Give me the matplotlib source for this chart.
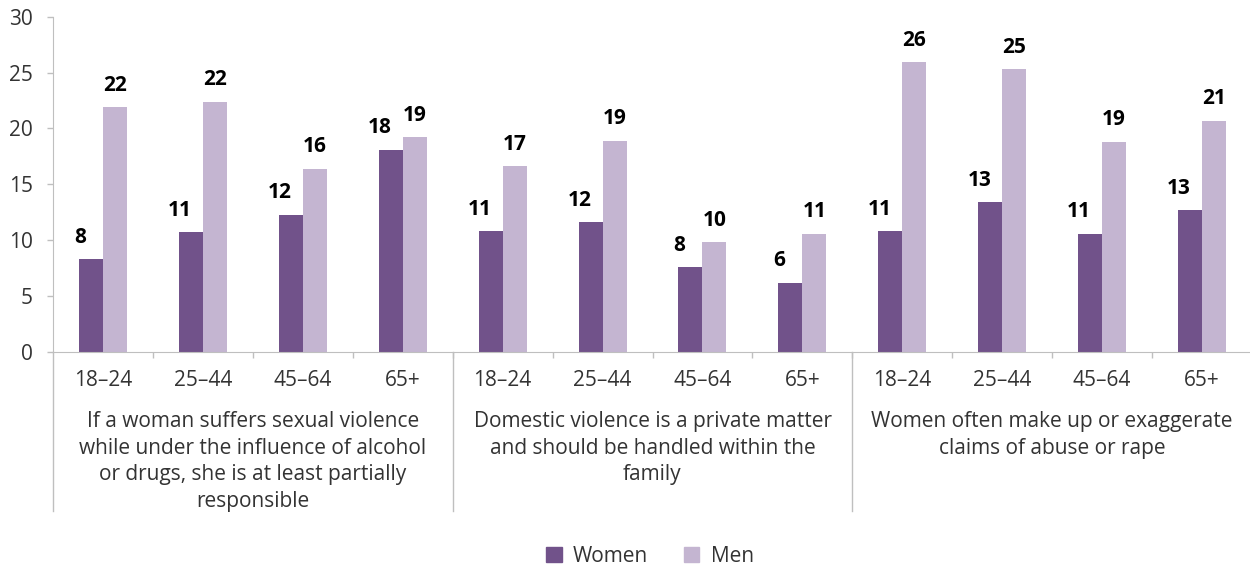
import matplotlib.pyplot as plt
import matplotlib.transforms as mtransforms
from matplotlib.patches import Patch

plt.rcParams['font.family'] = ['Open Sans', 'DejaVu Sans']

ages = ["18–24", "25–44", "45–64", "65+"]
statements = [
    "If a woman suffers sexual violence\nwhile under the influence of alcohol\nor drugs, she is at least partially\nresponsible",
    "Domestic violence is a private matter\nand should be handled within the\nfamily",
    "Women often make up or exaggerate\nclaims of abuse or rape",
]
women = [8.3, 10.7, 12.3, 18.1,
         10.8, 11.6, 7.6, 6.2,
         10.8, 13.4, 10.6, 12.7]
men = [21.9, 22.4, 16.4, 19.2,
       16.6, 18.9, 9.8, 10.6,
       25.9, 25.3, 18.8, 20.7]

women_color = "#71528a"
men_color = "#c4b5d1"
grey = "#bfbfbf"
text_color = "#333333"
fs = 15

fig = plt.figure(figsize=(12.5, 5.69), dpi=100)
ax = fig.add_axes([0.0424, 0.3814, 0.9592, 0.5893])

n = len(women)
x = list(range(n))
w = 0.24
xw = [i - w / 2 for i in x]
xm = [i + w / 2 for i in x]
ax.bar(xw, women, width=w, color=women_color, label="Women")
ax.bar(xm, men, width=w, color=men_color, label="Men")

for xi, v in zip(xw, women):
    ax.annotate(f"{v:.0f}", (xi, v), xytext=(-11, 22), textcoords="offset pixels",
                ha="center", va="center", fontsize=fs, fontweight="bold", color="black")
for xi, v in zip(xm, men):
    ax.annotate(f"{v:.0f}", (xi, v), xytext=(0, 22), textcoords="offset pixels",
                ha="center", va="center", fontsize=fs, fontweight="bold", color="black")

ax.set_xlim(-0.5, n - 0.5)
ax.set_ylim(0, 30)
ax.set_yticks(range(0, 31, 5))
ax.tick_params(axis="y", labelsize=fs, labelcolor=text_color, color=grey,
               length=4.5, width=1, pad=10)
ax.set_xticks([i + 0.5 for i in range(n - 1)])
ax.set_xticklabels([])
ax.tick_params(axis="x", color=grey, length=4.5, width=1)

for side in ["top", "right"]:
    ax.spines[side].set_visible(False)
ax.spines["left"].set_color(grey)
ax.spines["bottom"].set_color(grey)

trans = mtransforms.blended_transform_factory(ax.transData, ax.transAxes)
# age labels under each category
for i in x:
    ax.text(i, -0.085, ages[i % 4], transform=trans, ha="center", va="center",
            fontsize=fs, color=text_color)
# statement labels, one per group of four
for g, label in enumerate(statements):
    ax.text(4 * g + 1.5, -0.177, label, transform=trans, ha="center", va="top",
            fontsize=fs, color=text_color, linespacing=1.34)
# group separators running below the axis
for xs in [-0.5, 3.5, 7.5]:
    ax.plot([xs, xs], [0, -0.474], transform=trans, color=grey, lw=1, clip_on=False)

handles = [Patch(color=women_color, label="Women"), Patch(color=men_color, label="Men")]
fig.legend(handles=handles, loc="center", bbox_to_anchor=(0.52, 0.022), ncol=2,
           frameon=False, fontsize=fs, handlelength=0.75, handleheight=0.75,
           handletextpad=0.55, columnspacing=1.7, labelcolor=text_color)

fig.savefig("out.png", dpi=100)
